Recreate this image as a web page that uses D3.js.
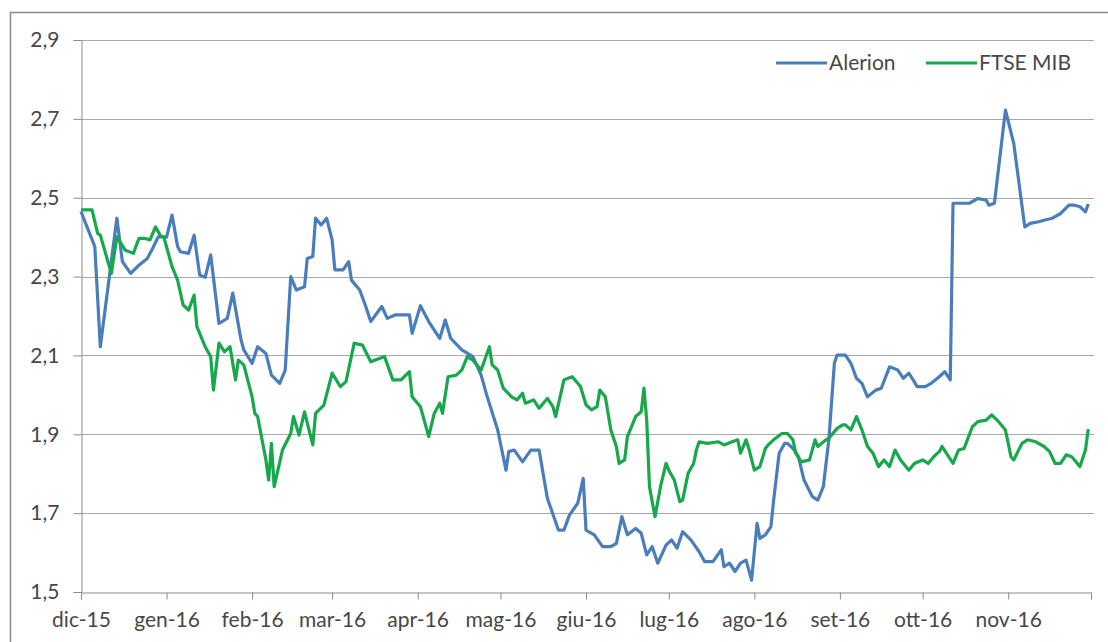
<!DOCTYPE html>
<html>
<head>
<meta charset="utf-8">
<script src="https://cdnjs.cloudflare.com/ajax/libs/d3/7.8.5/d3.min.js"></script>
<style>
    body { margin: 0; background: #fff; }
    text { font-family: Lato, "Open Sans", sans-serif; fill: #474747; }
</style>
</head>
<body>
<svg id="chart" width="1108" height="642"></svg>
<script>
// month labels on the x axis (Italian, as in the original)
var monthLabels = ["dic-15", "gen-16", "feb-16", "mar-16", "apr-16", "mag-16",
    "giu-16", "lug-16", "ago-16", "set-16", "ott-16", "nov-16"];

var yTicks = [1.5, 1.7, 1.9, 2.1, 2.3, 2.5, 2.7, 2.9];

var seriesNames = ["Alerion", "FTSE MIB"];

var alerionDates = ["2015-12-01","2015-12-06","2015-12-08","2015-12-14","2015-12-16","2015-12-19","2015-12-22","2015-12-25","2015-12-27","2015-12-29",
    "2016-01-01","2016-01-03","2016-01-05","2016-01-06","2016-01-09","2016-01-11","2016-01-13","2016-01-15","2016-01-17","2016-01-20","2016-01-23","2016-01-25","2016-01-28","2016-01-29",
    "2016-02-01","2016-02-03","2016-02-06","2016-02-08","2016-02-11","2016-02-13","2016-02-15","2016-02-17","2016-02-20","2016-02-21","2016-02-23","2016-02-24","2016-02-26","2016-02-28",
    "2016-03-01","2016-03-02","2016-03-05","2016-03-07","2016-03-08","2016-03-11","2016-03-13","2016-03-15","2016-03-19","2016-03-21","2016-03-24","2016-03-29","2016-03-30",
    "2016-04-02","2016-04-05","2016-04-09","2016-04-11","2016-04-13","2016-04-17","2016-04-21","2016-04-24","2016-04-26","2016-04-30",
    "2016-05-03","2016-05-04","2016-05-06","2016-05-09","2016-05-12","2016-05-15","2016-05-18","2016-05-22","2016-05-24","2016-05-26","2016-05-29","2016-05-31",
    "2016-06-01","2016-06-04","2016-06-07","2016-06-10","2016-06-12","2016-06-14","2016-06-16","2016-06-19","2016-06-21","2016-06-23","2016-06-25","2016-06-27","2016-06-30",
    "2016-07-02","2016-07-04","2016-07-06","2016-07-09","2016-07-12","2016-07-14","2016-07-17","2016-07-20","2016-07-21","2016-07-23","2016-07-25","2016-07-27","2016-07-29","2016-07-31",
    "2016-08-02","2016-08-03","2016-08-05","2016-08-07","2016-08-08","2016-08-10","2016-08-12","2016-08-13","2016-08-15","2016-08-17","2016-08-19","2016-08-22","2016-08-24","2016-08-26","2016-08-28","2016-08-30","2016-08-31",
    "2016-09-03","2016-09-05","2016-09-07","2016-09-09","2016-09-11","2016-09-14","2016-09-16","2016-09-19","2016-09-22","2016-09-24","2016-09-26","2016-09-28","2016-09-29",
    "2016-10-02","2016-10-04","2016-10-07","2016-10-09","2016-10-11","2016-10-12","2016-10-15","2016-10-18","2016-10-21","2016-10-24","2016-10-25","2016-10-27","2016-10-31",
    "2016-11-03","2016-11-07","2016-11-09","2016-11-12","2016-11-14","2016-11-17","2016-11-20","2016-11-23","2016-11-25","2016-11-27","2016-11-29","2016-11-30"];

var alerionValues = [2.465,2.376,2.122,2.448,2.338,2.308,2.329,2.346,2.372,2.401,
    2.40,2.456,2.376,2.363,2.359,2.405,2.304,2.298,2.355,2.181,2.194,2.258,2.139,2.114,
    2.08,2.122,2.105,2.05,2.029,2.063,2.30,2.266,2.274,2.346,2.351,2.448,2.431,2.448,
    2.393,2.317,2.317,2.338,2.291,2.266,2.228,2.186,2.224,2.194,2.203,2.203,2.156,
    2.226,2.186,2.143,2.19,2.143,2.114,2.097,2.05,2.0,1.911,
    1.809,1.856,1.86,1.83,1.86,1.86,1.738,1.657,1.657,1.695,1.725,1.788,
    1.657,1.645,1.615,1.615,1.623,1.691,1.645,1.661,1.649,1.594,1.615,1.573,1.619,
    1.632,1.611,1.653,1.632,1.602,1.577,1.577,1.607,1.564,1.573,1.552,1.573,1.581,1.53,
    1.674,1.636,1.645,1.666,1.733,1.852,1.877,1.877,1.864,1.843,1.784,1.742,1.733,1.767,1.886,2.08,2.101,
    2.101,2.08,2.042,2.029,1.995,2.012,2.017,2.071,2.063,2.042,2.055,2.033,2.021,
    2.021,2.029,2.046,2.059,2.038,2.486,2.486,2.486,2.498,2.494,2.481,2.486,2.722,
    2.638,2.426,2.435,2.439,2.443,2.448,2.46,2.481,2.481,2.477,2.464,2.484];

var ftseDates = ["2015-12-01","2015-12-05","2015-12-07","2015-12-08","2015-12-12","2015-12-14","2015-12-17","2015-12-20","2015-12-22","2015-12-24","2015-12-26","2015-12-28","2015-12-30","2015-12-31",
    "2016-01-02","2016-01-03","2016-01-05","2016-01-07","2016-01-09","2016-01-11","2016-01-12","2016-01-15","2016-01-17","2016-01-18","2016-01-20","2016-01-22","2016-01-24","2016-01-26","2016-01-27","2016-01-29",
    "2016-02-01","2016-02-02","2016-02-03","2016-02-06","2016-02-07","2016-02-08","2016-02-09","2016-02-12","2016-02-15","2016-02-16","2016-02-18","2016-02-20","2016-02-23","2016-02-24","2016-02-27",
    "2016-03-01","2016-03-04","2016-03-06","2016-03-09","2016-03-12","2016-03-15","2016-03-20","2016-03-23","2016-03-26","2016-03-29","2016-03-30",
    "2016-04-02","2016-04-05","2016-04-07","2016-04-09","2016-04-10","2016-04-12","2016-04-15","2016-04-17","2016-04-19","2016-04-21","2016-04-24","2016-04-27","2016-04-28","2016-04-30",
    "2016-05-02","2016-05-05","2016-05-07","2016-05-09","2016-05-10","2016-05-13","2016-05-15","2016-05-18","2016-05-20","2016-05-21","2016-05-24","2016-05-27","2016-05-30",
    "2016-06-01","2016-06-03","2016-06-05","2016-06-06","2016-06-08","2016-06-10","2016-06-12","2016-06-13","2016-06-15","2016-06-16","2016-06-19","2016-06-21","2016-06-22","2016-06-23","2016-06-24","2016-06-26","2016-06-28","2016-06-30",
    "2016-07-01","2016-07-03","2016-07-05","2016-07-06","2016-07-08","2016-07-10","2016-07-11","2016-07-12","2016-07-15","2016-07-19","2016-07-21","2016-07-24","2016-07-26","2016-07-27","2016-07-29","2016-07-30",
    "2016-08-01","2016-08-03","2016-08-05","2016-08-06","2016-08-08","2016-08-11","2016-08-13","2016-08-15","2016-08-16","2016-08-18","2016-08-21","2016-08-23","2016-08-24","2016-08-27","2016-08-28","2016-08-31",
    "2016-09-02","2016-09-03","2016-09-05","2016-09-07","2016-09-09","2016-09-11","2016-09-13","2016-09-15","2016-09-17","2016-09-19","2016-09-21","2016-09-23","2016-09-26","2016-09-28",
    "2016-10-01","2016-10-03","2016-10-05","2016-10-07","2016-10-08","2016-10-10","2016-10-12","2016-10-14","2016-10-16","2016-10-19","2016-10-21","2016-10-24","2016-10-26","2016-10-28","2016-10-31",
    "2016-11-02","2016-11-03","2016-11-06","2016-11-08","2016-11-11","2016-11-14","2016-11-16","2016-11-18","2016-11-20","2016-11-22","2016-11-24","2016-11-27","2016-11-29","2016-11-30"];

var ftseValues = [2.469,2.469,2.41,2.405,2.308,2.401,2.367,2.359,2.397,2.397,2.393,2.426,2.401,2.401,
    2.35,2.325,2.291,2.228,2.215,2.253,2.173,2.122,2.097,2.012,2.131,2.109,2.122,2.038,2.088,2.076,
    1.995,1.953,1.945,1.835,1.784,1.877,1.767,1.86,1.902,1.945,1.898,1.957,1.873,1.953,1.974,
    2.055,2.021,2.033,2.131,2.126,2.084,2.097,2.038,2.038,2.059,1.995,
    1.97,1.894,1.953,1.979,1.953,2.046,2.05,2.063,2.097,2.088,2.063,2.122,2.076,2.063,
    2.017,1.995,1.987,2.004,1.979,1.987,1.966,1.991,1.97,1.945,2.038,2.046,2.021,
    1.975,1.962,1.97,2.012,1.995,1.911,1.869,1.826,1.835,1.894,1.945,1.957,2.017,1.936,1.767,1.691,1.767,1.826,
    1.809,1.784,1.729,1.733,1.801,1.826,1.86,1.881,1.877,1.881,1.873,1.881,1.886,1.852,1.886,1.864,
    1.809,1.818,1.864,1.873,1.886,1.902,1.902,1.886,1.852,1.83,1.835,1.886,1.869,1.886,1.89,1.915,
    1.924,1.924,1.911,1.945,1.911,1.869,1.852,1.818,1.835,1.818,1.86,1.835,1.809,1.826,
    1.835,1.826,1.843,1.856,1.869,1.848,1.826,1.86,1.864,1.919,1.932,1.936,1.949,1.936,1.911,
    1.843,1.835,1.877,1.886,1.881,1.869,1.856,1.826,1.826,1.848,1.843,1.818,1.86,1.913];

var seriesColors = ["#4a7ebb", "#17a84b"];

var parseDate = d3.timeParse("%Y-%m-%d");

function BuildSeries(dates, values) {
    var res = [];
    for (var i = 0; i < dates.length; i++) {
        res.push({date: parseDate(dates[i]), value: values[i]});
    }
    return res;
}

var svg = d3.select("#chart");

// outer chart frame (runs off the right and bottom edge in the original)
svg.append("rect")
    .attr("x", 10.5).attr("y", 12.5)
    .attr("width", 1110).attr("height", 640)
    .style("fill", "none")
    .style("stroke", "#8a8a8a")
    .style("stroke-width", 1.5);

// plot area edges ("top" is a reserved window name, so use plot* names)
var plotLeft = 81, plotRight = 1091, plotTop = 40, plotBottom = 592;

var x = d3.scaleTime()
    .domain([new Date(2015, 11, 1), new Date(2016, 11, 1)])
    .range([plotLeft, plotRight]);

var y = d3.scaleLinear()
    .domain([1.5, 2.9])
    .range([plotBottom, plotTop]);

// horizontal gridlines
svg.append("g").selectAll("line")
    .data(yTicks.slice(1))
    .enter().append("line")
    .attr("x1", plotLeft).attr("x2", plotRight + 3)
    .attr("y1", function(d){ return Math.round(y(d)) + 0.5; })
    .attr("y2", function(d){ return Math.round(y(d)) + 0.5; })
    .style("stroke", "#a9a9a9")
    .style("stroke-width", 1.2);

// y axis
var yAxis = d3.axisLeft(y)
    .tickValues(yTicks)
    .tickSize(8)
    .tickFormat(function(d){ return d.toFixed(1).replace(".", ","); });

var gy = svg.append("g")
    .attr("transform", "translate(" + (plotLeft + 0.5) + ",0)")
    .call(yAxis);
gy.select(".domain").style("stroke", "#8c8c8c");
gy.selectAll(".tick line").style("stroke", "#8c8c8c");
gy.selectAll(".tick text")
    .attr("x", -22)
    .style("font-size", "21px")
    .style("font-family", "Lato, sans-serif")
    .style("fill", "#474747");

// x axis: one tick per month
var monthStarts = d3.timeMonth.range(new Date(2015, 11, 1), new Date(2016, 11, 2));
var xAxis = d3.axisBottom(x)
    .tickValues(monthStarts)
    .tickSize(7)
    .tickFormat(function(d, i){ return monthLabels[i] || ""; });

var gx = svg.append("g")
    .attr("transform", "translate(0," + (plotBottom + 0.5) + ")")
    .call(xAxis);
gx.select(".domain").style("stroke", "#8c8c8c");
gx.selectAll(".tick line").style("stroke", "#8c8c8c");
gx.selectAll(".tick text")
    .attr("y", 20)
    .style("font-size", "21px")
    .style("font-family", "Lato, sans-serif")
    .style("fill", "#474747");

// series lines
var line = d3.line()
    .x(function(d){ return x(d.date); })
    .y(function(d){ return y(d.value); });

var allSeries = [BuildSeries(alerionDates, alerionValues), BuildSeries(ftseDates, ftseValues)];

svg.append("g").selectAll("path")
    .data(allSeries)
    .enter().append("path")
    .attr("d", line)
    .style("fill", "none")
    .style("stroke", function(d, i){ return seriesColors[i]; })
    .style("stroke-width", 3.2)
    .style("stroke-linejoin", "round");

// legend
var legendX = [776, 926];
var legend = svg.append("g").selectAll("g")
    .data(seriesNames)
    .enter().append("g")
    .attr("transform", function(d, i){ return "translate(" + legendX[i] + ",63)"; });

legend.append("line")
    .attr("x1", 0).attr("x2", 51)
    .style("stroke", function(d, i){ return seriesColors[i]; })
    .style("stroke-width", 3.2);

legend.append("text")
    .attr("x", 53)
    .attr("dy", "0.35em")
    .style("font-size", "21px")
    .text(function(d){ return d; });
</script>
</body>
</html>
